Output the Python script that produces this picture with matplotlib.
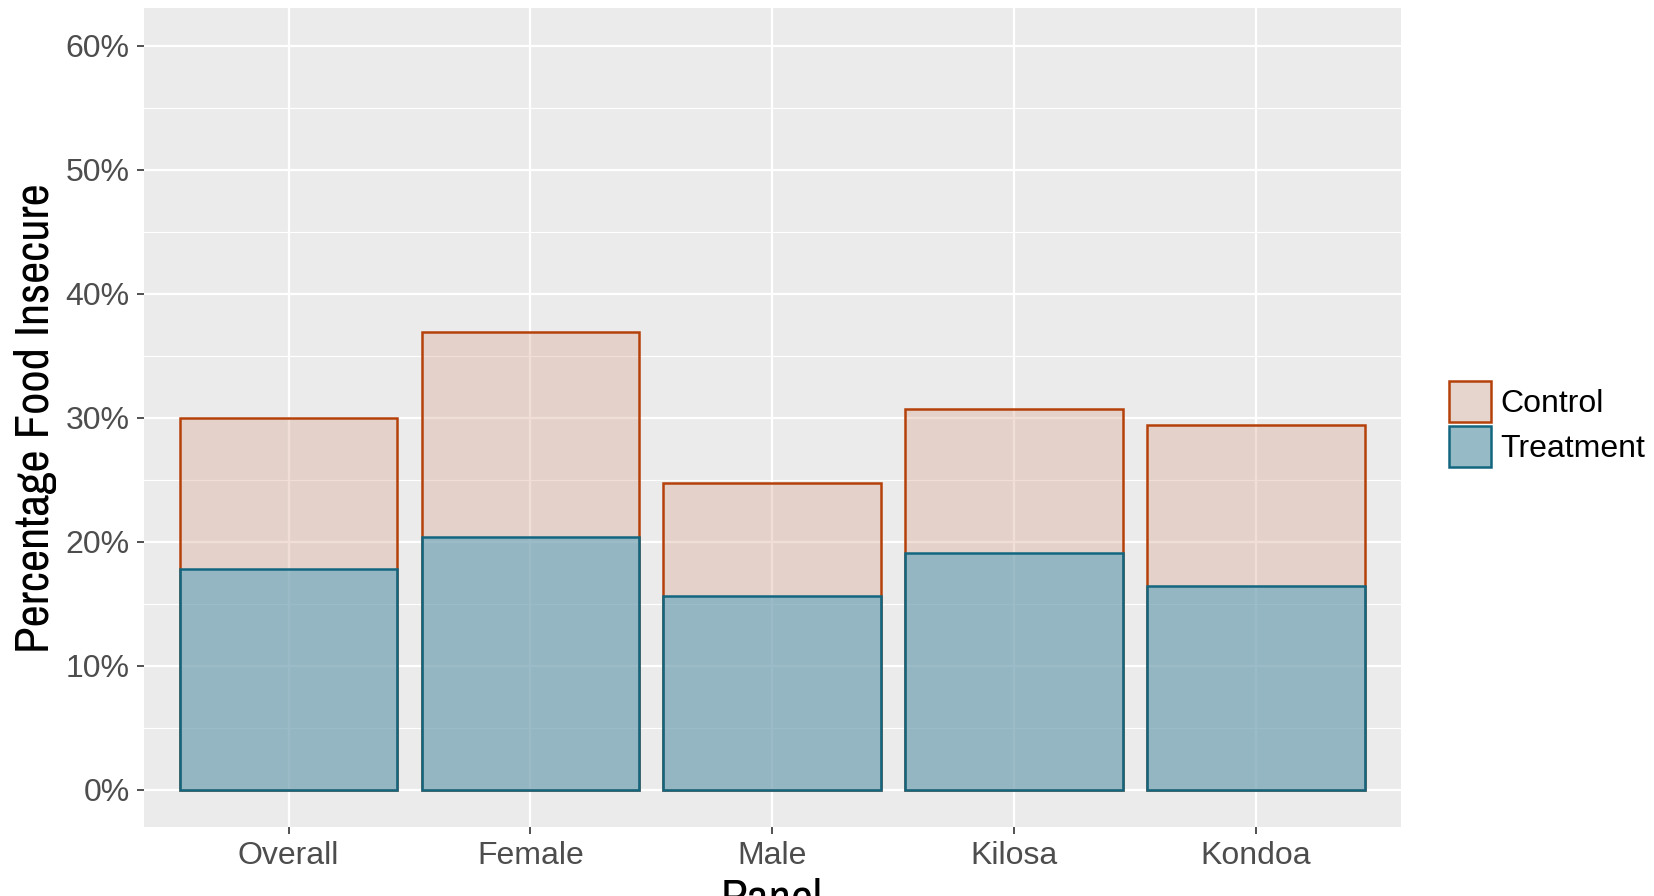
import matplotlib
matplotlib.use('Agg')
import matplotlib.pyplot as plt
from matplotlib.patches import Patch
from matplotlib.ticker import MultipleLocator, FuncFormatter

# data (percent food insecure)
panels    = ['Overall', 'Female', 'Male', 'Kilosa', 'Kondoa']
control   = [30.0, 36.9, 24.7, 30.7, 29.4]
treatment = [17.8, 20.4, 15.6, 19.1, 16.4]
yticks    = [0, 10, 20, 30, 40, 50, 60]

ctrl_edge, ctrl_fill = '#B5400A', '#D7A68D'
trt_edge,  trt_fill  = '#12667F', '#60A4BD'
narrow = ['Archivo Narrow', 'Liberation Sans', 'DejaVu Sans']
plain  = ['Liberation Sans', 'DejaVu Sans']

fig = plt.figure(figsize=(16.54, 8.96), dpi=100)
ax = fig.add_axes([143.5/1654, 1-827/896, (1401-143.5)/1654, (827-8.4)/896])
ax.set_facecolor('#EBEBEB')

x = list(range(len(panels)))
# control drawn first, treatment overlaid (identity position)
ax.bar(x, control, width=0.9, color=ctrl_fill, alpha=0.35, zorder=3)
ax.bar(x, control, width=0.9, fill=False, edgecolor=ctrl_edge, linewidth=1.8, zorder=4)
ax.bar(x, treatment, width=0.9, color=trt_fill, alpha=0.6, zorder=5)
ax.bar(x, treatment, width=0.9, fill=False, edgecolor=trt_edge, linewidth=1.8, zorder=6)

ax.set_xlim(-0.6, 4.6)
ax.set_ylim(-3, 63)
ax.set_xticks(x)
ax.set_xticklabels(panels)
ax.set_yticks(yticks)
ax.yaxis.set_minor_locator(MultipleLocator(5))
ax.yaxis.set_major_formatter(FuncFormatter(lambda v, p: '{0:.0f}%'.format(v)))

ax.grid(which='major', color='white', linewidth=1.6, zorder=0)
ax.grid(which='minor', axis='y', color='white', linewidth=0.8, zorder=0)
ax.set_axisbelow(True)
for s in ax.spines.values():
  s.set_visible(False)

ax.tick_params(axis='both', which='major', labelsize=23, labelcolor='#4D4D4D',
               color='#333333', length=5, width=1.2, pad=5)
ax.tick_params(axis='y', which='minor', length=0)
for lab in ax.get_xticklabels() + ax.get_yticklabels():
  lab.set_family(plain)

fig.text(36/1654, 0.5*(1-827/896) + 0.5*(1-8.4/896), 'Percentage Food Insecure',
         rotation=90, ha='center', va='center', fontsize=35, family=narrow)
fig.text(772/1654, 1-877/896, 'Panel', ha='center', va='top', fontsize=35, family=narrow)

handles = [Patch(facecolor='#E6D5CC', edgecolor=ctrl_edge, linewidth=1.8, label='Control'),
           Patch(facecolor='#96BBC6', edgecolor=trt_edge, linewidth=1.8, label='Treatment')]
fig.legend(handles=handles, loc='center left', bbox_to_anchor=(1449/1654, 1-424/896),
           frameon=False, borderpad=0, borderaxespad=0, handlelength=1.3, handleheight=1.62,
           handletextpad=0.3, labelspacing=0.1, prop={'size': 23, 'family': plain})

fig.savefig('out.png', dpi=100)
